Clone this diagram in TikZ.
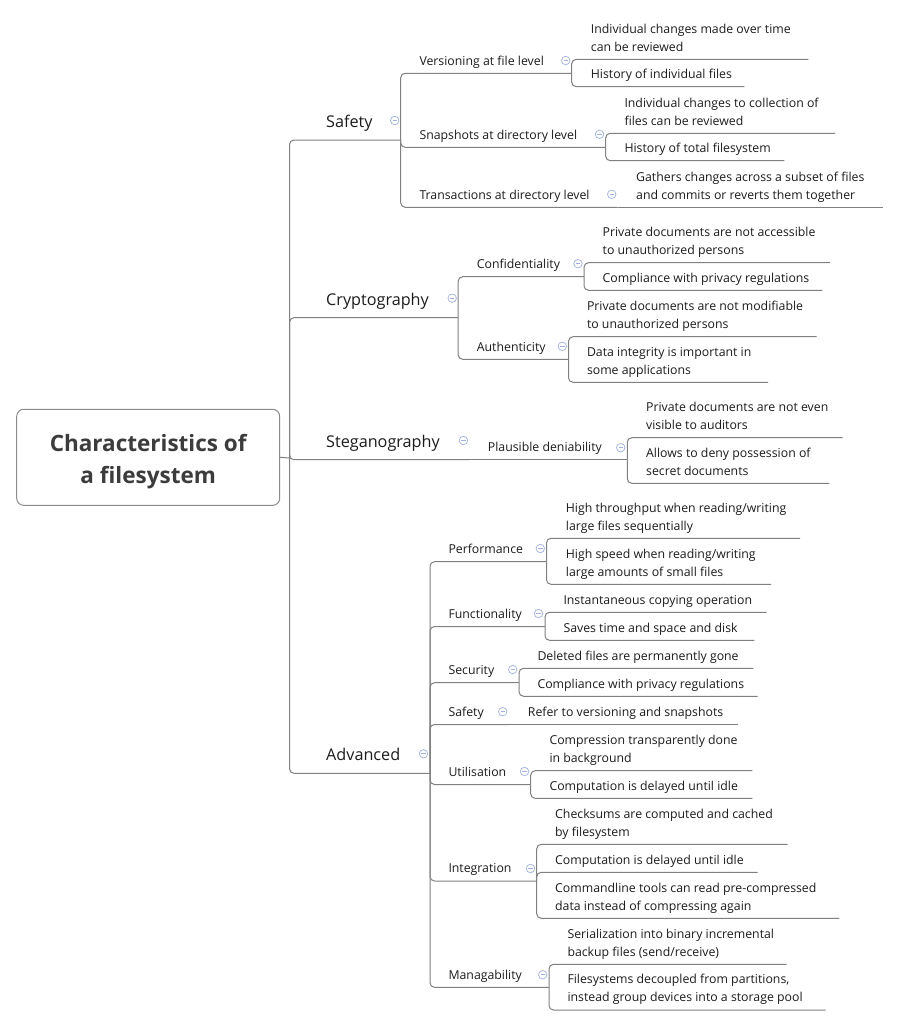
\documentclass[tikz,border=0pt]{standalone}
\usepackage{fontspec}
\setmainfont{Open Sans}
\definecolor{linec}{RGB}{128,128,128}
\definecolor{textc}{RGB}{28,28,28}
\definecolor{rootc}{RGB}{60,60,60}
\definecolor{rootborder}{RGB}{140,140,140}
\definecolor{iconc}{RGB}{160,176,224}
\newcommand\lffont{\fontsize{12.3}{18}\selectfont}
\newcommand\brfont{\fontsize{16.2}{20}\selectfont}
\newcommand\rtfont{\fontsize{22.5}{31.5}\selectfont\bfseries}
\newcommand\ml[1]{\begin{tabular}[b]{@{}l@{}}#1\end{tabular}}
% topic: name, parent, text x, underline y, underline end x, text
\newcommand\leafat[6]{%
  \node[leaf] (#1) at (#3, #4-8.3) {#6};
  \coordinate (#1-e) at (#5, #4);
  \draw[conn] (#2-e) |- (#1-e);
}
% single child, on the same line as its parent
\newcommand\onlyat[6]{%
  \node[leaf] (#1) at (#3, #4-8.3) {#6};
  \coordinate (#1-e) at (#5, #4);
  \draw[conn] (#2-e) -- (#1-e);
}
\newcommand\mainat[6]{%
  \node[branch] (#1) at (#3, #4-12.6) {#6};
  \coordinate (#1-e) at (#5, #4);
  \draw[conn] (#2-e) |- (#1-e);
}
\begin{document}
\begin{tikzpicture}[x=1pt,y=-1pt,
  conn/.style={draw=linec, line width=1pt, rounded corners=4.5pt},
  leaf/.style={anchor=base west, inner sep=0pt, font=\lffont, text=textc},
  branch/.style={anchor=base west, inner sep=0pt, font=\brfont, text=textc},
  fold/.style={circle, draw=iconc, line width=0.7pt, minimum size=8.5pt, inner sep=0pt,
    path picture={\draw[iconc, line width=0.7pt]
      ([xshift=-2.2pt]path picture bounding box.center) --
      ([xshift=2.2pt]path picture bounding box.center);}},
]
\fill[white] (0,0) rectangle (899,1026);
\useasboundingbox (0,0) rectangle (899,1026);

% root
\node[draw=rootborder, line width=1pt, rounded corners=7pt, minimum width=263pt,
  minimum height=96pt, inner sep=0pt, font=\rtfont, text=rootc] (root) at (148.2,457.3)
  {\raisebox{0pt}[51.4pt][0pt]{\begin{tabular}[b]{@{}c@{}}Characteristics of\\a filesystem\end{tabular}}};
\coordinate (rj-e) at (289.5,458);
\draw[conn] (root.east) -- (rj-e);

% main branches
\mainat{safety}{rj}{326}{140}{400.7}{Safety}
\mainat{crypto}{rj}{326}{317.7}{458.2}{Cryptography}
\mainat{steg}{rj}{326}{459.7}{469}{Steganography}
\mainat{adv}{rj}{326}{773.3}{430}{Advanced}

% Safety
\leafat{vers}{safety}{419.3}{73.3}{571.7}{Versioning at file level}
\leafat{vers1}{vers}{590.7}{59.3}{808.3}{\ml{Individual changes made over time\\can be reviewed}}
\leafat{vers2}{vers}{590.7}{86.7}{744.3}{History of individual files}
\leafat{snap}{safety}{419.3}{147.3}{605.7}{Snapshots at directory level}
\leafat{snap1}{snap}{624.3}{133.3}{835}{\ml{Individual changes to collection of\\files can be reviewed}}
\leafat{snap2}{snap}{624.3}{160.7}{784.3}{History of total filesystem}
\leafat{trans}{safety}{419.3}{207.3}{617.7}{Transactions at directory level}
\onlyat{trans1}{trans}{636}{207.3}{882.7}{\ml{Gathers changes across a subset of files\\and commits or reverts them together}}

% Cryptography
\leafat{conf}{crypto}{476.7}{276.7}{584}{Confidentiality}
\leafat{conf1}{conf}{602.5}{262.7}{830}{\ml{Private documents are not accessible\\to unauthorized persons}}
\leafat{conf2}{conf}{602.5}{290.3}{822.4}{Compliance with privacy regulations}
\leafat{auth}{crypto}{476.7}{359.3}{568.5}{Authenticity}
\leafat{auth1}{auth}{586.8}{336.7}{816.5}{\ml{Private documents are not modifiable\\to unauthorized persons}}
\leafat{auth2}{auth}{586.8}{382.3}{768}{\ml{Data integrity is important in\\some applications}}

% Steganography
\onlyat{plaus}{steg}{487.7}{459.7}{627.3}{Plausible deniability}
\leafat{plaus1}{plaus}{646}{437.7}{842.7}{\ml{Private documents are not even\\visible to auditors}}
\leafat{plaus2}{plaus}{646}{483.3}{829.3}{\ml{Allows to deny possession of\\secret documents}}

% Advanced
\leafat{perf}{adv}{448.3}{561.7}{546.5}{Performance}
\leafat{perf1}{perf}{565.7}{538.3}{800}{\ml{High throughput when reading/writing\\large files sequentially}}
\leafat{perf2}{perf}{565.7}{584.3}{771}{\ml{High speed when reading/writing\\large amounts of small files}}
\leafat{func}{adv}{448.3}{626.5}{545}{Functionality}
\leafat{func1}{func}{563.3}{612.3}{766.7}{Instantaneous copying operation}
\leafat{func2}{func}{563.3}{640.3}{754.3}{Saves time and space and disk}
\leafat{secu}{adv}{448.3}{682.7}{519}{Security}
\leafat{secu1}{secu}{537.3}{668.3}{753.3}{Deleted files are permanently gone}
\leafat{secu2}{secu}{537.3}{696.3}{757.7}{Compliance with privacy regulations}
\leafat{asafe}{adv}{448.3}{724.5}{509}{Safety}
\onlyat{asafe1}{asafe}{527.7}{724.5}{738.3}{Refer to versioning and snapshots}
\leafat{util}{adv}{448.3}{784.5}{530.7}{Utilisation}
\leafat{util1}{util}{549.3}{770.7}{752.3}{\ml{Compression transparently done\\in background}}
\leafat{util2}{util}{549.3}{798.3}{752.3}{Computation is delayed until idle}
\leafat{integ}{adv}{448.3}{881}{536.7}{Integration}
\leafat{integ1}{integ}{555}{844.3}{787.7}{\ml{Checksums are computed and cached\\by filesystem}}
\leafat{integ2}{integ}{555}{872.3}{757.7}{Computation is delayed until idle}
\leafat{integ3}{integ}{555}{918.3}{839.3}{\ml{Commandline tools can read pre-compressed\\data instead of compressing again}}
\leafat{manag}{adv}{448.3}{987.3}{549}{Managability}
\leafat{manag1}{manag}{567.3}{964.3}{786.7}{\ml{Serialization into binary incremental\\backup files (send/receive)}}
\leafat{manag2}{manag}{567.3}{1010}{825.7}{\ml{Filesystems decoupled from partitions,\\instead group devices into a storage pool}}

% fold icons
\node[fold] (f-safety) at (394.7,120.5) {};
\node[fold] (f-crypto) at (452.2,298.2) {};
\node[fold] (f-steg) at (463.4,440.5) {};
\node[fold] (f-adv) at (423.5,753.8) {};
\node[fold] (f-vers) at (565.7,60.5) {};
\node[fold] (f-snap) at (599.5,134.3) {};
\node[fold] (f-trans) at (611.7,194.3) {};
\node[fold] (f-conf) at (578,263.7) {};
\node[fold] (f-auth) at (562.3,346.3) {};
\node[fold] (f-plaus) at (620.7,447.7) {};
\node[fold] (f-perf) at (540.3,548.5) {};
\node[fold] (f-func) at (538.5,613.5) {};
\node[fold] (f-secu) at (512.7,669.5) {};
\node[fold] (f-asafe) at (502.7,711.7) {};
\node[fold] (f-util) at (524.5,771.5) {};
\node[fold] (f-integ) at (530.5,868.5) {};
\node[fold] (f-manag) at (542.7,974.8) {};
\end{tikzpicture}
\end{document}
